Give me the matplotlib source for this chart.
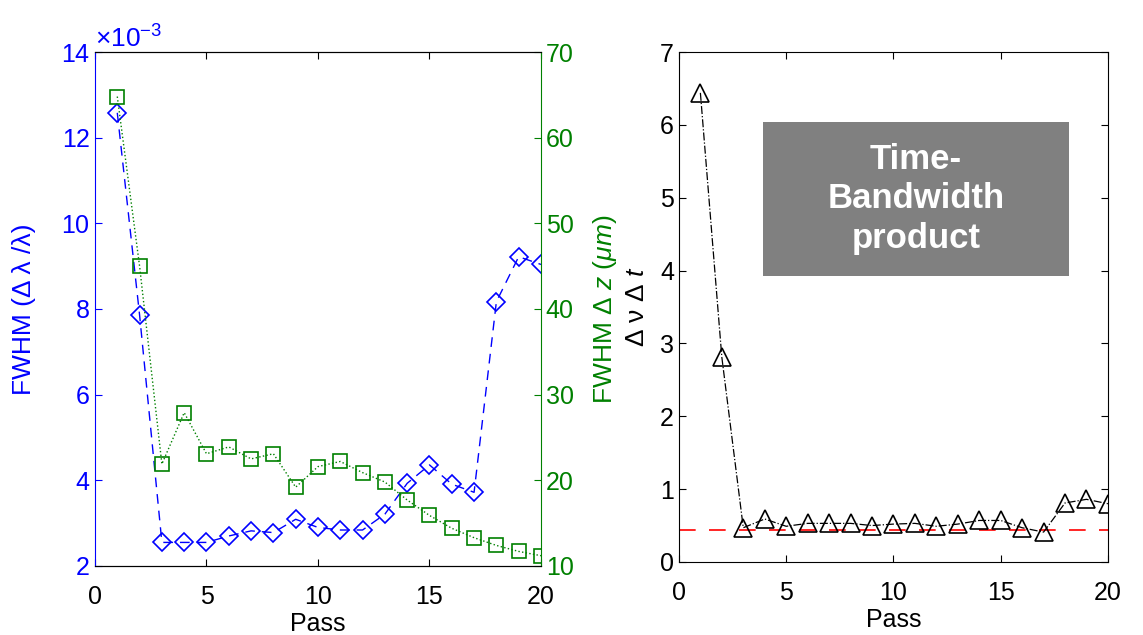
import matplotlib.pyplot as plt
from matplotlib.patches import Rectangle
from matplotlib.ticker import ScalarFormatter

plt.rcParams['font.family'] = ['Liberation Sans', 'DejaVu Sans']
plt.rcParams['mathtext.fontset'] = 'custom'
plt.rcParams['mathtext.rm'] = 'Liberation Sans'
plt.rcParams['mathtext.it'] = 'Liberation Sans:italic'
plt.rcParams['font.size'] = 18

# data
passes = list(range(1, 21))
fwhm_lambda = [12.58e-3, 7.86e-3, 2.55e-3, 2.55e-3, 2.55e-3, 2.70e-3, 2.82e-3, 2.78e-3,
               3.09e-3, 2.90e-3, 2.84e-3, 2.84e-3, 3.21e-3, 3.93e-3, 4.36e-3, 3.91e-3,
               3.72e-3, 8.17e-3, 9.22e-3, 9.04e-3]
fwhm_z = [64.8, 45.0, 21.9, 27.9, 23.1, 23.9, 22.5, 23.1, 19.2, 21.6,
          22.2, 20.9, 19.8, 17.7, 15.9, 14.4, 13.3, 12.4, 11.7, 11.2]
tbp = [6.44, 2.81, 0.47, 0.59, 0.49, 0.53, 0.53, 0.53, 0.50, 0.52,
       0.53, 0.49, 0.52, 0.57, 0.57, 0.47, 0.41, 0.81, 0.86, 0.80]
tbp_limit = 0.441

blue = '#0000ff'
green = '#008000'

fig = plt.figure(figsize=(11.43, 6.35), dpi=100)

# left panel: spectral and temporal width
ax1 = fig.add_axes([0.0831, 0.1087, 0.3902, 0.8094])
ax1.plot(passes, fwhm_lambda, color=blue, linestyle='--', dashes=(7, 5), linewidth=1.0,
         marker='D', markersize=9, markerfacecolor='none', markeredgewidth=1.2)
ax1.set_xlim(0, 20)
ax1.set_ylim(2e-3, 14e-3)
ax1.set_xticks([0, 5, 10, 15, 20])
ax1.set_yticks([2e-3, 4e-3, 6e-3, 8e-3, 10e-3, 12e-3, 14e-3])
fmt = ScalarFormatter(useMathText=True)
fmt.set_powerlimits((-3, -3))
ax1.yaxis.set_major_formatter(fmt)
ax1.yaxis.get_offset_text().set_color(blue)
ax1.yaxis.get_offset_text().set_fontsize(19)
ax1.set_xlabel('Pass', labelpad=2)
ax1.set_ylabel('FWHM (Δ λ /λ)', color=blue, fontsize=19, labelpad=18)
ax1.tick_params(axis='y', colors=blue, direction='in', length=5, left=True, right=False)
ax1.tick_params(axis='x', direction='in', length=5, top=True, pad=14)
ax1.spines['left'].set_color(blue)
ax1.spines['right'].set_visible(False)

ax2 = ax1.twinx()
ax2.plot(passes, fwhm_z, color=green, linestyle=':', linewidth=1.0,
         marker='s', markersize=10, markerfacecolor='none', markeredgewidth=1.2)
ax2.set_ylim(10, 70)
ax2.set_yticks([10, 20, 30, 40, 50, 60, 70])
ax2.set_ylabel(r'FWHM $\Delta$ $z$ ($\mu m$)', color=green, fontsize=19, labelpad=12)
ax2.tick_params(axis='y', colors=green, direction='in', length=5)
ax2.spines['right'].set_color(green)
ax2.spines['left'].set_visible(False)

# right panel: time-bandwidth product
ax3 = fig.add_axes([0.594, 0.115, 0.3753, 0.803])
ax3.plot(passes, tbp, color='black', linestyle='-.', linewidth=0.9,
         marker='^', markersize=12.5, markerfacecolor='none', markeredgewidth=1.2)
ax3.axhline(tbp_limit, color='red', linestyle='--', dashes=(10, 8), linewidth=1.2, zorder=1)
ax3.set_xlim(0, 20)
ax3.set_ylim(0, 7)
ax3.set_xticks([0, 5, 10, 15, 20])
ax3.set_yticks(range(0, 8))
ax3.set_xlabel('Pass', labelpad=2)
ax3.set_ylabel(r'Δ ν Δ $t$', fontsize=19, labelpad=8)
ax3.tick_params(direction='in', length=5, top=True, right=True)
ax3.tick_params(axis='x', pad=14)

ax3.add_patch(Rectangle((0.196, 0.561), 0.713, 0.302, transform=ax3.transAxes,
                        facecolor='#808080', edgecolor='none', zorder=3))
ax3.text(0.5525, 0.712, 'Time-\nBandwidth\nproduct', transform=ax3.transAxes,
         ha='center', va='center', color='white', fontsize=25, fontweight='bold',
         linespacing=1.25, zorder=4)

fig.savefig('out.png', dpi=100)
